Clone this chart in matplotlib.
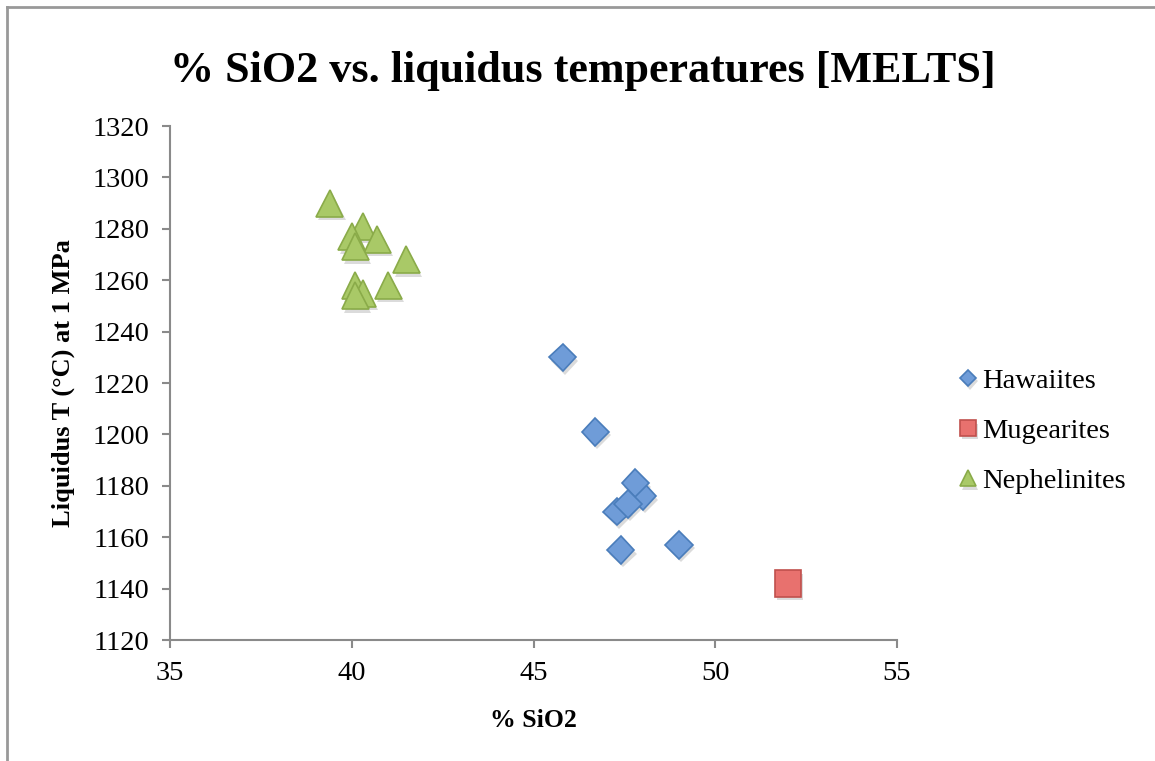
import matplotlib
matplotlib.use("Agg")
import matplotlib.pyplot as plt
import matplotlib.patheffects as pe
from matplotlib.lines import Line2D

# % SiO2 and MELTS liquidus temperature (deg C) per rock group
haw_sio2 = [45.8, 46.7, 48.0, 47.8, 47.3, 47.6, 47.4, 49.0]
haw_temp = [1230, 1201, 1176, 1181, 1170, 1173, 1155, 1157]

mug_sio2 = [52.0]
mug_temp = [1142]

neph_sio2 = [39.4, 40.3, 40.0, 40.7, 40.1, 41.5, 40.1, 41.0, 40.3, 40.1]
neph_temp = [1290, 1281, 1277, 1276, 1273, 1268, 1258, 1258, 1255, 1254]

x_ticks = [35, 40, 45, 50, 55]
y_ticks = list(range(1120, 1321, 20))

SERIF = ["Liberation Serif", "DejaVu Serif"]
AXIS_GREY = "#8a8a8a"

fig = plt.figure(figsize=(11.55, 7.61), dpi=100)
ax = fig.add_axes([170 / 1155, 1 - 640 / 761, (897 - 170) / 1155, (640 - 126) / 761])

shadow = [pe.SimplePatchShadow(offset=(1.5, -2.5), shadow_rgbFace="#9a9a9a", alpha=0.35),
          pe.Normal()]

ax.plot(haw_sio2, haw_temp, linestyle="none", marker="D", markersize=14,
        markerfacecolor="#6f9cd8", markeredgecolor="#4a7dbb", markeredgewidth=1.2,
        label="Hawaiites", path_effects=shadow)
ax.plot(mug_sio2, mug_temp, linestyle="none", marker="s", markersize=19,
        markerfacecolor="#e8716e", markeredgecolor="#c0504d", markeredgewidth=1.2,
        label="Mugearites", path_effects=shadow)
ax.plot(neph_sio2, neph_temp, linestyle="none", marker="^", markersize=19.5,
        markerfacecolor="#a9c967", markeredgecolor="#8aab49", markeredgewidth=1.2,
        label="Nephelinites", path_effects=shadow)

ax.set_xlim(35, 55)
ax.set_ylim(1120, 1320)
ax.set_xticks(x_ticks)
ax.set_yticks(y_ticks)

for side in ["top", "right"]:
    ax.spines[side].set_visible(False)
for side in ["left", "bottom"]:
    ax.spines[side].set_color(AXIS_GREY)
    ax.spines[side].set_linewidth(1.5)
ax.tick_params(direction="out", length=6, width=1.5, color=AXIS_GREY,
               labelsize=20.5, pad=9)
for lab in ax.get_xticklabels() + ax.get_yticklabels():
    lab.set_family(SERIF)

ax.set_xlabel("% SiO2", family=SERIF, fontsize=18.5, fontweight="bold", labelpad=17)
ax.set_ylabel("Liquidus T (°C) at 1 MPa", family=SERIF, fontsize=19,
              fontweight="bold", labelpad=12)

fig.text(0.505, 0.907, "% SiO2 vs. liquidus temperatures [MELTS]", family=SERIF,
         fontsize=31.8, fontweight="bold", ha="center", va="center")

leg = ax.legend(loc="center left", bbox_to_anchor=(934 / 1155, 1 - 431 / 761),
                bbox_transform=fig.transFigure, frameon=False, markerscale=0.6,
                handlelength=0.6, handletextpad=0.2, labelspacing=0.85,
                prop={"family": SERIF, "size": 20.5})

# chart-area border along the top and left edges
fig.add_artist(Line2D([7 / 1155, 1], [1 - 7 / 761, 1 - 7 / 761],
                      transform=fig.transFigure, color="#999999", linewidth=2))
fig.add_artist(Line2D([7 / 1155, 7 / 1155], [0, 1 - 7 / 761],
                      transform=fig.transFigure, color="#999999", linewidth=2))

fig.savefig("out.png", dpi=100)
